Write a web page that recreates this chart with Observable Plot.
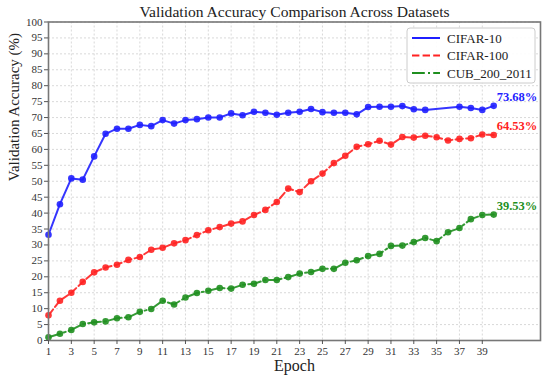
<!DOCTYPE html>
<html>
<head>
<meta charset="utf-8">
<script src="https://cdn.jsdelivr.net/npm/d3@7"></script>
<script src="https://cdn.jsdelivr.net/npm/@observablehq/plot@0.6"></script>
<style>
  html, body { margin: 0; padding: 0; background: #fff; }
  #chart { width: 550px; height: 378px; }
  #chart svg, #chart svg text { font-family: 'Liberation Serif', 'Times New Roman', serif; }
</style>
</head>
<body>
<div id="chart"></div>
<script>
const titleText = "Validation Accuracy Comparison Across Datasets";
const xLabel = "Epoch";
const yLabel = "Validation Accuracy (%)";

const xTicks = [1,3,5,7,9,11,13,15,17,19,21,23,25,27,29,31,33,35,37,39];
const yTicks = [0,5,10,15,20,25,30,35,40,45,50,55,60,65,70,75,80,85,90,95,100];

const seriesNames = ["CIFAR-10", "CIFAR-100", "CUB_200_2011"];
const seriesColors = ["#1f1fff", "#ff2222", "#1f8f1f"];
const seriesDash = [null, "7.4,3.2", "12.8,3.2,2,3.2"];
const endLabels = ["73.68%", "64.53%", "39.53%"];

const cifar10Epochs = [1,2,3,4,5,6,7,8,9,10,11,12,13,14,15,16,17,18,19,20,21,22,23,24,25,26,27,28,29,30,31,32,33,34,37,38,39,40];
const cifar10Acc = [33.2,42.8,50.9,50.5,57.8,64.9,66.5,66.5,67.7,67.3,69.2,68.1,69.2,69.5,70.0,70.0,71.3,70.7,71.8,71.5,70.9,71.5,71.8,72.7,71.7,71.5,71.5,71.0,73.3,73.4,73.4,73.6,72.6,72.4,73.4,73.0,72.4,73.68];

const cifar100Epochs = [1,2,3,4,5,6,7,8,9,10,11,12,13,14,15,16,17,18,19,20,21,22,23,24,25,26,27,28,29,30,31,32,33,34,35,36,37,38,39,40];
const cifar100Acc = [7.9,12.5,15.0,18.4,21.4,22.9,23.8,25.3,26.2,28.5,29.1,30.5,31.5,33.1,34.6,35.6,36.7,37.4,39.4,41.0,43.5,47.7,46.6,50.0,52.4,55.7,58.0,60.8,61.6,62.7,61.5,63.9,63.7,64.3,63.8,62.8,63.3,63.5,64.7,64.53];

const cubEpochs = [1,2,3,4,5,6,7,8,9,10,11,12,13,14,15,16,17,18,19,20,21,22,23,24,25,26,27,28,29,30,31,32,33,34,35,36,37,38,39,40];
const cubAcc = [1.0,2.1,3.3,5.2,5.7,6.0,7.0,7.3,9.0,9.9,12.5,11.3,13.5,14.9,15.6,16.5,16.3,17.5,17.8,19.0,19.0,19.9,21.0,21.5,22.5,22.5,24.4,25.2,26.5,27.2,29.7,29.8,30.9,32.2,31.2,34.0,35.3,38.1,39.4,39.53];

const seriesEpochs = [cifar10Epochs, cifar100Epochs, cubEpochs];
const seriesAcc = [cifar10Acc, cifar100Acc, cubAcc];

const data = seriesNames.map((name, i) =>
  seriesEpochs[i].map((e, j) => ({epoch: e, acc: seriesAcc[i][j], series: name}))
);
const lastPoints = data.map((d, i) => ({...d[d.length - 1], label: endLabels[i], color: seriesColors[i]}));

const font = "'Liberation Serif', 'Times New Roman', serif";

const marks = [
  Plot.gridX(xTicks, {stroke: "#cfcfcf", strokeOpacity: 1, strokeDasharray: "2,2", strokeWidth: 0.8}),
  Plot.gridY(yTicks, {stroke: "#cfcfcf", strokeOpacity: 1, strokeDasharray: "2,2", strokeWidth: 0.8}),
];
data.forEach((d, i) => {
  const lineOpts = {x: "epoch", y: "acc", stroke: seriesColors[i], strokeWidth: 2, strokeOpacity: 0.9};
  if (seriesDash[i]) lineOpts.strokeDasharray = seriesDash[i];
  marks.push(Plot.line(d, lineOpts));
  marks.push(Plot.dot(d, {x: "epoch", y: "acc", fill: seriesColors[i], r: 3.3, fillOpacity: 0.9}));
});
marks.push(
  Plot.text(lastPoints, {x: "epoch", y: "acc", text: "label", fill: "color", dx: 3, dy: -9, textAnchor: "start", fontSize: 12.5, fontWeight: "bold"}),
  Plot.frame({stroke: "#777", strokeWidth: 1.6}),
  Plot.axisX(xTicks, {tickSize: 4, tickPadding: 3, fontSize: 11, label: null, stroke: "#555", color: "#333"}),
  Plot.axisY(yTicks, {tickSize: 4, tickPadding: 2, fontSize: 11, label: null, stroke: "#555", color: "#333"}),
  Plot.text([xLabel], {frameAnchor: "bottom", lineAnchor: "middle", dy: 25, fontSize: 16, fill: "#222"}),
  Plot.text([yLabel], {frameAnchor: "left", lineAnchor: "middle", rotate: -90, dx: -34, fontSize: 15, fill: "#222"}),
  Plot.text([titleText], {frameAnchor: "top", lineAnchor: "middle", dy: -10, fontSize: 15.6, fill: "#222"})
);

const chart = Plot.plot({
  width: 550,
  height: 378,
  marginTop: 21.5,
  marginBottom: 38,
  marginLeft: 48,
  marginRight: 10,
  style: {fontFamily: font, background: "#fff", overflow: "visible"},
  x: {domain: [1, 44.1]},
  y: {domain: [0, 100]},
  marks
});

// legend
const svg = d3.select(chart);
const lg = svg.append("g").attr("transform", "translate(407,28)")
  .style("font-family", font).attr("text-anchor", "start");
lg.append("rect").attr("width", 128).attr("height", 55).attr("rx", 3)
  .attr("fill", "#fff").attr("fill-opacity", 0.9).attr("stroke", "#ccc").attr("stroke-width", 1);
seriesNames.forEach((name, i) => {
  const y = 10 + i * 17.5;
  const ln = lg.append("line").attr("x1", 5).attr("x2", 33).attr("y1", y).attr("y2", y)
    .attr("stroke", seriesColors[i]).attr("stroke-width", 2);
  if (seriesDash[i]) ln.attr("stroke-dasharray", seriesDash[i]);
  lg.append("text").attr("x", 40).attr("y", y).attr("dy", "0.35em")
    .attr("text-anchor", "start")
    .attr("font-size", 13).attr("fill", "#222").text(name);
});

document.getElementById("chart").appendChild(chart);
</script>
</body>
</html>
